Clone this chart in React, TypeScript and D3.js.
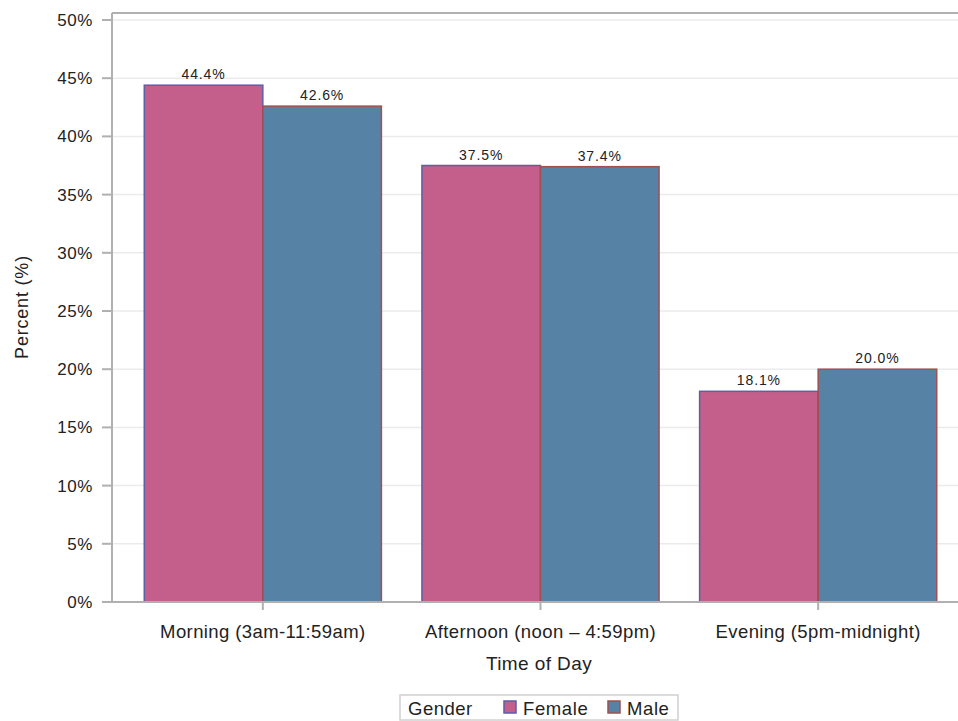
import React from "react";
import * as d3 from "d3";

const categories = ["Morning (3am-11:59am)", "Afternoon (noon – 4:59pm)", "Evening (5pm-midnight)"];
const genders = ["Female", "Male"];
const femaleValues = [44.4, 37.5, 18.1];
const maleValues = [42.6, 37.4, 20.0];
const yTicks = [0, 5, 10, 15, 20, 25, 30, 35, 40, 45, 50];

const W = 958;
const H = 721;
const FILL: Record<string, string> = { Female: "#c45e8a", Male: "#5682a6" };
const STROKE: Record<string, string> = { Female: "#5d5ea8", Male: "#a14f50" };
const FONT = "'Liberation Sans', Arial, Helvetica, sans-serif";

export default function App() {
  const left = 112;
  const top = 13;
  const bottom = 602;
  const y = d3.scaleLinear().domain([0, 50]).range([bottom, 20]);
  const x0 = d3.scaleBand<string>().domain(categories).range([124, 957]).paddingInner(0.146).paddingOuter(0.073);
  const x1 = d3.scaleBand<string>().domain(genders).range([0, x0.bandwidth()]);
  const data = categories.map((c, i) => ({ c, vals: [{ g: "Female", v: femaleValues[i] }, { g: "Male", v: maleValues[i] }] }));

  return (
    <svg width={W} height={H} style={{ position: "absolute", left: 0, top: 0, background: "#fff" }} fontFamily={FONT}>
      {yTicks.map((t) => (
        <g key={t}>
          <line x1={left} x2={W} y1={y(t)} y2={y(t)} stroke="#ebebeb" strokeWidth={1.5} />
          <line x1={left - 10} x2={left} y1={y(t)} y2={y(t)} stroke="#b0b0b0" strokeWidth={2} />
          <text x={93} y={y(t) + 6} textAnchor="end" fontSize={17} letterSpacing={0.6} fill="#222">{`${t}%`}</text>
        </g>
      ))}
      {data.map((d) => (
        <g key={d.c} transform={`translate(${x0(d.c)},0)`}>
          {d.vals.map((b) => (
            <g key={b.g}>
              <rect x={x1(b.g)!} y={y(b.v)} width={x1.bandwidth()} height={bottom - y(b.v)} fill={FILL[b.g]} stroke={STROKE[b.g]} strokeWidth={1.5} />
              <text x={x1(b.g)! + x1.bandwidth() / 2} y={y(b.v) - 6} textAnchor="middle" fontSize={14} letterSpacing={0.9} fill="#222">{`${b.v.toFixed(1)}%`}</text>
            </g>
          ))}
        </g>
      ))}
      <line x1={left} x2={left} y1={top} y2={bottom} stroke="#b0b0b0" strokeWidth={2} />
      <line x1={left} x2={W} y1={top} y2={top} stroke="#b0b0b0" strokeWidth={2} />
      <line x1={left} x2={W} y1={bottom} y2={bottom} stroke="#b0b0b0" strokeWidth={2} />
      {categories.map((c) => {
        const cx = x0(c)! + x0.bandwidth() / 2;
        return (
          <g key={c}>
            <line x1={cx} x2={cx} y1={bottom} y2={bottom + 8} stroke="#b0b0b0" strokeWidth={2} />
            <text x={cx} y={638} textAnchor="middle" fontSize={18.5} letterSpacing={0.4} fill="#222">{c}</text>
          </g>
        );
      })}
      <text x={539} y={670} textAnchor="middle" fontSize={19} letterSpacing={0.4} fill="#222">Time of Day</text>
      <text transform="translate(28,307) rotate(-90)" textAnchor="middle" fontSize={18} letterSpacing={0.8} fill="#222">Percent (%)</text>
      <rect x={400} y={695} width={278} height={25} fill="#fff" stroke="#d0d0d0" strokeWidth={1.5} />
      <text x={408} y={715} fontSize={18.5} letterSpacing={0.5} fill="#222">Gender</text>
      {genders.map((g, i) => {
        const sx = i === 0 ? 504 : 608;
        return (
          <g key={g}>
            <rect x={sx} y={701} width={12} height={12} fill={FILL[g]} stroke={STROKE[g]} strokeWidth={1.5} />
            <text x={sx + 19} y={715} fontSize={18.5} letterSpacing={0.6} fill="#222">{g}</text>
          </g>
        );
      })}
    </svg>
  );
}
